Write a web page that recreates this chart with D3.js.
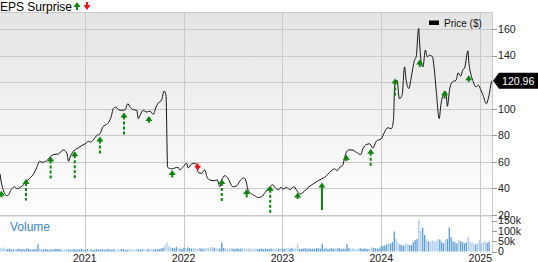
<!DOCTYPE html>
<html><head><meta charset="utf-8">
<script src="https://cdn.jsdelivr.net/npm/d3@7"></script>
<style>body{margin:0;background:#fff}svg{display:block;font-family:"Liberation Sans",Arial,sans-serif}</style>
</head><body><svg id="c" width="538" height="262"></svg>
<script>
// ---- data ----
const priceDates = ["2020-02-23","2020-03-03","2020-03-21","2020-04-07","2020-04-16","2020-04-26","2020-05-08","2020-05-20","2020-06-02","2020-06-14","2020-06-26","2020-07-08","2020-07-18","2020-07-27","2020-08-14","2020-08-27","2020-09-08","2020-09-26","2020-10-14","2020-10-27","2020-11-02","2020-11-10","2020-11-20","2020-12-08","2020-12-21","2021-01-06","2021-01-14","2021-01-23","2021-02-02","2021-02-14","2021-02-26","2021-03-10","2021-03-23","2021-04-02","2021-04-10","2021-04-16","2021-04-26","2021-05-05","2021-05-18","2021-05-30","2021-06-09","2021-06-17","2021-06-29","2021-07-12","2021-07-18","2021-07-24","2021-08-05","2021-08-18","2021-08-30","2021-09-11","2021-09-21","2021-09-30","2021-10-12","2021-10-21","2021-10-28","2021-11-03","2021-11-18","2021-11-30","2021-12-12","2021-12-18","2021-12-31","2022-01-12","2022-01-18","2022-01-31","2022-02-12","2022-02-18","2022-02-24","2022-03-08","2022-03-20","2022-03-29","2022-04-08","2022-04-23","2022-05-05","2022-05-15","2022-05-21","2022-06-03","2022-06-11","2022-06-19","2022-06-25","2022-07-03","2022-07-16","2022-07-31","2022-08-12","2022-08-20","2022-08-26","2022-09-03","2022-09-21","2022-10-04","2022-10-16","2022-10-29","2022-11-16","2022-11-26","2022-12-04","2022-12-17","2022-12-26","2023-01-04","2023-01-16","2023-01-28","2023-02-12","2023-02-22","2023-03-06","2023-03-18","2023-04-06","2023-04-24","2023-05-13","2023-05-25","2023-06-06","2023-06-19","2023-07-01","2023-07-13","2023-07-22","2023-08-01","2023-08-11","2023-08-19","2023-08-25","2023-09-03","2023-09-15","2023-10-01","2023-10-17","2023-10-25","2023-11-07","2023-11-19","2023-12-01","2023-12-14","2024-01-01","2024-01-13","2024-01-25","2024-02-07","2024-02-15","2024-02-20","2024-02-28","2024-03-08","2024-03-18","2024-03-27","2024-04-02","2024-04-12","2024-04-21","2024-05-03","2024-05-09","2024-05-18","2024-05-21","2024-05-28","2024-06-03","2024-06-12","2024-06-19","2024-06-28","2024-07-08","2024-07-17","2024-07-23","2024-08-02","2024-08-08","2024-08-14","2024-08-27","2024-09-01","2024-09-10","2024-09-20","2024-10-03","2024-10-11","2024-10-20","2024-10-28","2024-11-05","2024-11-16","2024-11-20","2024-11-28","2024-12-06","2024-12-16","2024-12-25","2025-01-02","2025-01-11","2025-01-23","2025-02-02","2025-02-11","2025-02-12"];
const priceValues = [50.9,40.8,34.5,39.8,41.3,39.8,40.8,42.8,45.8,48.1,50.9,55.9,60.4,59.7,60.9,64.0,65.5,66.0,69.0,66.5,60.4,64.7,68.0,70.5,72.3,74.0,75.5,74.8,76.6,79.8,81.1,86.7,88.2,90.7,95.0,100.0,101.2,99.3,98.8,99.3,103.8,101.2,99.3,98.8,92.5,95.0,98.8,97.5,98.2,95.7,101.2,104.3,106.8,113.3,110.1,55.9,54.7,55.4,55.9,53.9,56.4,58.9,55.4,58.5,58.9,57.2,52.1,51.3,53.9,48.3,46.4,45.8,46.4,41.3,45.8,49.6,48.3,45.8,42.8,41.3,42.0,46.4,47.9,45.3,39.5,37.0,34.5,33.2,33.7,37.0,41.3,42.8,40.8,39.0,40.8,39.5,40.8,39.0,41.3,38.8,35.8,37.0,40.8,43.3,45.8,47.1,48.3,50.9,53.4,54.7,53.4,55.9,57.2,63.2,67.2,69.0,69.0,67.2,65.5,69.8,73.0,73.6,70.5,75.6,77.4,82.3,85.7,84.9,91.2,118.9,121.4,107.6,110.1,131.5,121.4,115.2,123.9,136.6,139.1,160.5,151.7,134.1,131.5,144.1,139.1,140.3,139.1,125.2,111.4,92.5,102.5,108.8,112.6,101.8,115.2,120.2,121.4,127.0,124.5,129.0,131.5,143.6,134.1,125.2,120.2,116.4,117.7,114.4,110.1,103.8,110.1,120.2,120.96];
const lastPrice = 120.96;

// EPS surprise reports: date, closing price on that day, surprise (%)
const epsDates = ["2020-02-28","2020-05-29","2020-08-28","2020-11-25","2021-02-26","2021-05-26","2021-08-26","2021-11-20","2022-02-22","2022-05-22","2022-08-22","2022-11-17","2023-02-26","2023-05-27","2023-08-25","2023-11-23","2024-02-21","2024-05-22","2024-08-22","2024-11-19"];
const epsPrices = [38.3,47.1,64.0,68.0,79.1,97.2,94.6,53.9,53.4,47.1,39.5,42.0,37.0,44.5,65.3,69.8,122.7,137.1,113.9,125.2];
const epsSurprise = [22,72,74,94,60,78,23,25,-24,75,28,92,22,92,21,61,60,25,28,22];
const epsKind = ["a","a","a","a","a","a","a","a","a","a","a","a","a","b","a","a","a","a","a","a"];

// weekly volume (thousands), first week starting:
const volumeStart = "2020-02-23";
const volumeValues = [18,15,20,14,12,14,10,9,12,11,14,10,12,9,15,13,10,8,11,12,35,14,10,9,12,10,8,11,9,13,12,12,10,8,9,11,10,9,8,12,10,9,11,13,8,
10,12,9,11,8,10,12,9,10,11,8,9,12,10,9,11,8,10,9,12,10,8,9,11,10,9,8,12,10,9,11,10,9,12,14,10,9,11,10,12,15,18,30,43,25,20,18,15,22,16,14,12,
18,15,20,16,14,18,15,13,17,15,14,16,18,15,20,22,18,15,16,14,43,17,14,13,15,16,14,12,15,13,14,16,12,13,15,14,12,13,14,12,13,15,12,14,13,12,14,13,12,15,14,13,
15,12,14,16,13,18,14,15,38,13,12,14,16,13,15,12,14,13,16,15,14,38,13,15,12,14,16,13,15,14,17,12,14,13,35,16,14,15,13,12,14,16,13,15,14,12,13,20,18,16,14,15,
25,28,30,35,40,38,45,97,60,45,35,30,28,40,35,32,30,45,55,60,155,100,115,80,60,50,45,55,50,52,60,58,45,40,55,60,116,70,50,45,40,55,50,45,40,45,71,48,42,38,35,40,
55,40,45,50,42,48];

const priceTicks = [20,40,60,80,100,120,140,160];
const priceLabels = [20,40,60,80,100,140,160];
const volumeTicks = [0,50,100,150];
const yearTicks = ["2021","2022","2023","2024","2025"];

// ---- chart ----
const parse = d3.timeParse("%Y-%m-%d");
const svg = d3.select("#c");
const W = 492, topY = 12, paneBottom = 215.5, volBottom = 251.5;

const x = d3.scaleTime().domain([parse("2020-02-23"), parse("2025-02-13")]).range([0, W]);
const y = d3.scaleLinear().domain([20, 160]).range([215, 29]);
const yv = d3.scaleLinear().domain([0, 150]).range([volBottom, 220.5]);
const sLen = d3.scaleLinear().domain([0, 100]).range([0, 30]);

const defs = svg.append("defs");
const g = defs.append("linearGradient").attr("id","bg").attr("x1",0).attr("y1",0).attr("x2",0).attr("y2",1);
g.append("stop").attr("offset","0%").attr("stop-color","#e4e4e4");
g.append("stop").attr("offset","100%").attr("stop-color","#ffffff");

svg.append("rect").attr("x",0).attr("y",topY).attr("width",W).attr("height",paneBottom-topY).attr("fill","url(#bg)");

const gridC = "#c9c9c9";
svg.append("g").selectAll("line").data(priceTicks).join("line")
  .attr("x1",0).attr("x2",W)
  .attr("y1",d=>Math.round(y(d))+0.5).attr("y2",d=>Math.round(y(d))+0.5)
  .attr("stroke",gridC);
svg.append("line").attr("x1",0).attr("x2",W).attr("y1",topY+0.5).attr("y2",topY+0.5).attr("stroke",gridC);
svg.append("line").attr("x1",0).attr("x2",W).attr("y1",paneBottom+0.5).attr("y2",paneBottom+0.5).attr("stroke",gridC);
const yearDates = yearTicks.map(t=>parse(t+"-01-01"));
svg.append("g").selectAll("line").data(yearDates).join("line")
  .attr("x1",d=>Math.round(x(d))+0.5).attr("x2",d=>Math.round(x(d))+0.5)
  .attr("y1",topY).attr("y2",volBottom+1)
  .attr("stroke",gridC);
svg.append("line").attr("x1",W+0.5).attr("x2",W+0.5).attr("y1",topY).attr("y2",volBottom+1).attr("stroke",gridC);

// volume bars
const vStart = parse(volumeStart);
const vData = volumeValues.map((v,i)=>({d:d3.timeDay.offset(vStart, i*7), v}));
const pData = priceDates.map((d,i)=>({d:parse(d), v:priceValues[i]}));
const bis = d3.bisector(p=>p.d).left;
function priceAt(dt){
  const i = Math.max(1, Math.min(pData.length-1, bis(pData, dt)));
  const a = pData[i-1], b = pData[i];
  const t = (dt-a.d)/(b.d-a.d);
  return a.v + (b.v-a.v)*Math.max(0,Math.min(1,t));
}
svg.append("g").selectAll("rect").data(vData).join("rect")
  .attr("x",d=>x(d.d)-0.6).attr("width",1.3)
  .attr("y",d=>yv(d.v)).attr("height",d=>volBottom-yv(d.v))
  .attr("fill",d=>{
    const a = priceAt(d.d), b = priceAt(d3.timeDay.offset(d.d,7));
    return b>=a ? "#5b9bd5" : "#a9cbec";
  });

// price line
svg.append("path").datum(pData)
  .attr("d", d3.line().x(d=>x(d.d)).y(d=>y(d.v)).curve(d3.curveMonotoneX))
  .attr("fill","none").attr("stroke","#151515").attr("stroke-width",1);

// eps arrows
const green = "#0a840a", red = "#ee1111";
const eps = epsDates.map((d,i)=>({d:parse(d), p:epsPrices[i], s:epsSurprise[i], k:epsKind[i]}));
const ag = svg.append("g");
eps.forEach(e=>{
  const cx = x(e.d), ty = y(e.p), len = Math.max(6, sLen(Math.abs(e.s)));
  const up = e.s >= 0, col = up ? green : red, dir = up ? 1 : -1;
  ag.append("line").attr("x1",cx).attr("x2",cx)
    .attr("y1",ty+dir*4).attr("y2",ty+dir*len)
    .attr("stroke",col).attr("stroke-width",2)
    .attr("stroke-dasharray", e.k==="b" || len<9 ? null : "3,2");
  ag.append("path").attr("d",`M${cx},${ty}L${cx-3.5},${ty+dir*5}L${cx+3.5},${ty+dir*5}Z`).attr("fill",col);
});

// right axis
const ax = svg.append("g").attr("font-size","10.6px").attr("fill","#222");
ax.selectAll("line.pt").data(priceLabels).join("line").attr("class","pt")
  .attr("x1",W).attr("x2",W+5).attr("y1",d=>Math.round(y(d))+0.5).attr("y2",d=>Math.round(y(d))+0.5).attr("stroke","#999");
ax.selectAll("text.pl").data(priceLabels).join("text").attr("class","pl")
  .attr("x",W+6).attr("y",d=>y(d)).attr("dy","0.36em").text(d=>d);
ax.selectAll("line.vt").data(volumeTicks).join("line").attr("class","vt")
  .attr("x1",W).attr("x2",W+5).attr("y1",d=>Math.round(yv(d))+0.5).attr("y2",d=>Math.round(yv(d))+0.5).attr("stroke","#999");
ax.selectAll("text.vl").data(volumeTicks).join("text").attr("class","vl")
  .attr("x",W+6).attr("y",d=>yv(d)).attr("dy","0.36em").text(d=>d===0?"0":d+"k");
ax.selectAll("text.yl").data(yearDates).join("text").attr("class","yl")
  .attr("x",d=>x(d)).attr("y",261.5).attr("text-anchor","middle").text((d,i)=>yearTicks[i]);

// last price tag
const ly = y(lastPrice);
svg.append("path").attr("d",`M${W+1},${ly}L${W+7},${ly-8}L538,${ly-8}L538,${ly+8}L${W+7},${ly+8}Z`).attr("fill","#000");
svg.append("text").attr("x",W+10).attr("y",ly).attr("dy","0.36em").attr("font-size","10.6px").attr("fill","#fff").text(lastPrice.toFixed(2));

// legends
svg.append("text").attr("x",0).attr("y",11).attr("font-size","12px").attr("fill","#000").text("EPS Surprise");
function legArrow(cx, up){
  const col = up?green:red, tip = up?2:10, dir = up?1:-1;
  svg.append("path").attr("d",`M${cx},${tip}L${cx-3.5},${tip+dir*5}L${cx+3.5},${tip+dir*5}Z`).attr("fill",col);
  svg.append("line").attr("x1",cx).attr("x2",cx).attr("y1",tip+dir*4).attr("y2",tip+dir*8).attr("stroke",col).attr("stroke-width",2);
}
legArrow(77,true); legArrow(87,false);
svg.append("rect").attr("x",429).attr("y",20.5).attr("width",10).attr("height",4.5).attr("fill","#000");
svg.append("text").attr("x",444).attr("y",26.5).attr("font-size","10px").attr("fill","#111").text("Price ($)");
svg.append("text").attr("x",10).attr("y",231).attr("font-size","12px").attr("fill","#3a86c6").text("Volume");
</script></body></html>
